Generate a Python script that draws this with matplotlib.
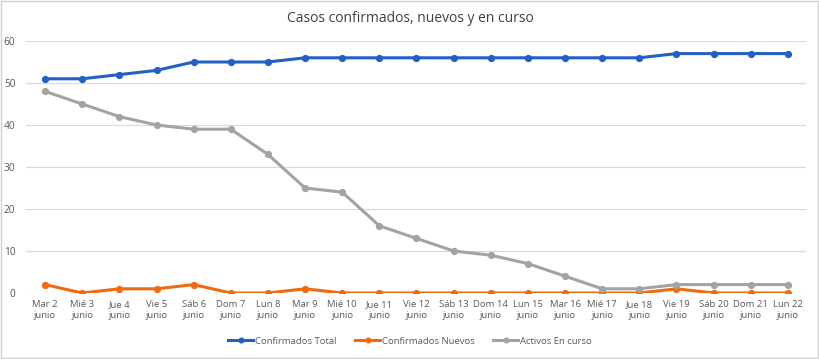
import matplotlib
matplotlib.use("Agg")
import matplotlib.pyplot as plt
from matplotlib.patches import Rectangle

plt.rcParams["font.family"] = ["Open Sans", "DejaVu Sans"]

days = ["Mar 2", "Mié 3", "Jue 4", "Vie 5", "Sáb 6", "Dom 7", "Lun 8",
        "Mar 9", "Mié 10", "Jue 11", "Vie 12", "Sáb 13", "Dom 14", "Lun 15",
        "Mar 16", "Mié 17", "Jue 18", "Vie 19", "Sáb 20", "Dom 21", "Lun 22"]
labels = [d + "\njunio" for d in days]

total = [51, 51, 52, 53, 55, 55, 55, 56, 56, 56, 56, 56, 56, 56, 56, 56, 56, 57, 57, 57, 57]
nuevos = [2, 0, 1, 1, 2, 0, 0, 1, 0, 0, 0, 0, 0, 0, 0, 0, 0, 1, 0, 0, 0]
activos = [48, 45, 42, 40, 39, 39, 33, 25, 24, 16, 13, 10, 9, 7, 4, 1, 1, 2, 2, 2, 2]

series = [
    ("Confirmados Total", total, "#2360c4"),
    ("Confirmados Nuevos", nuevos, "#f26a10"),
    ("Activos En curso", activos, "#a3a3a3"),
]

fig = plt.figure(figsize=(8.2, 3.59), dpi=100)
fig.patches.append(Rectangle((0.001, 0.002), 0.997, 0.995, transform=fig.transFigure,
                             fill=False, edgecolor="#d0d0d0", linewidth=1))
ax = fig.add_axes([26.5 / 820, 1 - 293 / 359, 780 / 820, 252 / 359])

x = list(range(len(days)))
for name, vals, col in series:
    ax.plot(x, vals, color=col, linewidth=2.2, marker="o", markersize=4.2, label=name)

ax.set_xlim(-0.5, len(days) - 0.5)
ax.set_ylim(0, 60)
ax.set_yticks(range(0, 61, 10))
ax.set_xticks(x)
ax.set_xticklabels(labels, fontsize=6.8, color="#595959", linespacing=1.3)
ax.tick_params(axis="y", labelsize=7.3, labelcolor="#595959", length=0, pad=8)
ax.tick_params(axis="x", length=0, pad=5)
ax.grid(axis="y", color="#d9d9d9", linewidth=0.8)
ax.set_axisbelow(True)
for s in ax.spines.values():
    s.set_visible(False)

fig.text(0.5, 1 - 18 / 359, "Casos confirmados, nuevos y en curso", ha="center", va="center",
         fontsize=10, color="#404040")

leg = fig.legend(loc="center", bbox_to_anchor=(0.5, 1 - 341 / 359), ncol=3, frameon=False,
                 fontsize=6.8, handlelength=2.6, columnspacing=2.0, handletextpad=0.2,
                 markerscale=0.8)
for t in leg.get_texts():
    t.set_color("#595959")

fig.savefig("out.png", dpi=100)
